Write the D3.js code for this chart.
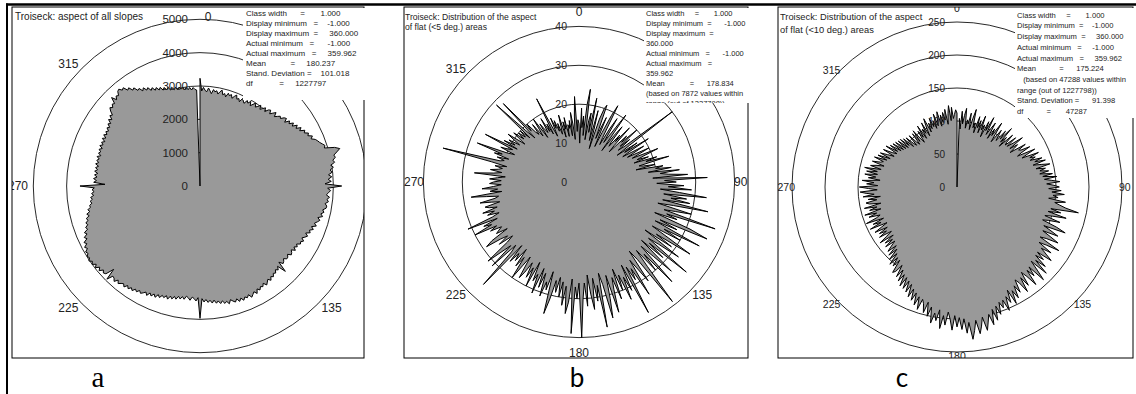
<!DOCTYPE html>
<html><head><meta charset="utf-8">
<script src="https://cdn.jsdelivr.net/npm/d3@7"></script>
<style>
body{margin:0;background:#fff;}
svg{display:block;font-family:"Liberation Sans",Arial,sans-serif;}
text{fill:#222;}
.pre{white-space:pre;}
</style></head><body>
<svg id="chart" width="1136" height="394"></svg>
<script>
// ---------- DATA ----------
const degrees = d3.range(360);

// a: aspect of all slopes (counts per 1-degree class)
const countsAll = [
3230,2850,2960,2880,2830,2950,2870,2790,2920,2860,
2900,2810,2890,2950,2820,2870,2780,2910,2850,2900,
2800,2880,2940,2830,2870,2790,2920,2860,2810,2930,
2870,2960,2840,2920,3000,2890,2950,3030,2920,2990,
3060,2960,3070,3110,3010,3090,3170,3050,3120,3190,
3150,3250,3290,3180,3320,3260,3380,3300,3440,3360,
3500,3420,3560,3510,3620,3570,3690,3620,3730,3780,
3820,3880,3940,3900,4200,4340,4230,4120,4150,4060,
4100,3970,4040,3930,3990,3870,3960,3850,3940,3750,
4250,3830,3920,3860,3800,3900,3830,3880,3790,3850,
3840,3750,3800,3720,3790,3660,3740,3680,3610,3690,
3560,3640,3540,3590,3470,3560,3500,3430,3520,3450,
3480,3380,3440,3360,3450,3340,3400,3430,3330,3390,
3400,3320,3380,3410,3290,3620,3350,3440,3380,3460,
3420,3500,3450,3540,3460,3520,3580,3480,3560,3520,
3600,3530,3650,3560,3620,3680,3570,3640,3590,3670,
3580,3660,3560,3640,3590,3530,3640,3550,3600,3510,
3580,3490,3550,3450,3530,3440,3500,3410,3480,3380,
3970,3350,3450,3380,3340,3440,3370,3330,3430,3360,
3440,3370,3470,3400,3490,3420,3530,3440,3520,3470,
3560,3490,3600,3520,3610,3540,3650,3570,3630,3680,
3620,3700,3650,3740,3680,3760,3690,3790,3720,3760,
3820,3740,3850,3780,3760,3950,3600,3860,3900,3840,
3950,3870,3980,3900,4000,3940,4020,3950,3990,3920,
3960,3860,3920,3810,3870,3740,3800,3680,3740,3610,
3650,3560,3600,3510,3550,3440,3500,3390,3440,3350,
3360,3280,3330,3250,3300,3200,3260,3180,3240,3170,
3600,2850,3190,3110,3200,3100,3180,3090,3190,3110,
3180,3100,3200,3120,3190,3130,3210,3110,3200,3150,
3220,3140,3240,3160,3230,3150,3260,3170,3270,3190,
3260,3200,3290,3230,3330,3270,3390,3310,3430,3380,
3500,3580,3520,3600,3560,3750,3600,3690,3650,3760,
3790,3700,3740,3600,3640,3510,3550,3420,3450,3330,
3400,3290,3340,3220,3280,3170,3230,3130,3190,3080,
3140,3050,3110,3010,3080,2990,3050,2970,3030,2960,
3000,2930,2990,2910,2970,2890,2960,2900,2880,0
];

// b: aspect of flat (<5 deg.) areas
const countsFlat5 = [
15,10,19,14,17,12,20,24,11,16,
18,13,22,15,11,19,14,9,17,20,
21,12,15,18,10,14,19,22,13,11,
16,19,12,14,17,21,10,15,18,13,
12,16,14,19,13,11,17,15,20,14,
17,13,15,30,16,12,18,14,21,15,
13,19,16,14,20,17,15,22,18,16,
19,15,21,18,24,16,17,20,15,22,
20,24,18,26,21,23,28,19,33,22,
25,20,27,23,29,21,26,33,22,28,
24,29,22,34,25,21,30,26,23,37,
24,27,21,31,36,23,28,22,35,25,
30,22,27,34,24,29,21,32,26,23,
36,24,29,22,33,27,23,35,25,30,
23,28,39,25,22,31,27,24,34,26,
29,25,38,24,31,27,33,26,30,24,
32,26,29,35,25,31,36,27,24,38,
27,31,25,33,29,24,32,26,30,40,
26,30,27,39,25,31,34,27,32,26,
30,25,29,26,31,35,24,29,27,31,
25,29,24,31,26,28,23,30,25,28,
24,27,29,23,26,30,24,27,22,26,
24,27,22,36,25,23,31,24,27,31,
24,22,26,23,25,29,27,22,25,24,
23,26,24,30,25,27,23,31,24,22,
25,23,26,22,24,25,21,23,26,22,
21,24,28,20,23,21,25,22,20,23,
22,20,23,21,19,27,22,20,23,21,
20,22,19,23,36,21,20,22,19,23,
21,28,20,18,22,20,19,27,18,22,
19,21,18,20,22,17,19,21,18,20,
18,20,17,29,19,16,28,18,20,17,
16,19,15,17,20,14,18,16,15,19,
15,17,14,24,16,13,18,15,17,14,
16,13,15,18,12,16,14,17,12,15,
14,16,12,18,15,11,17,22,13,16
];

// c: aspect of flat (<10 deg.) areas
const countsFlat10 = [
112,0,104,88,115,96,109,120,90,103,
97,114,89,106,121,93,101,86,112,95,
107,88,116,94,103,84,110,96,119,91,
102,113,87,105,94,118,98,86,109,100,
92,112,98,121,95,106,89,115,101,97,
116,98,108,124,99,112,105,96,122,109,
112,126,110,103,131,117,108,134,119,127,
118,136,124,140,120,132,145,123,137,128,
141,127,146,131,152,133,144,156,136,147,
155,139,158,144,163,146,154,140,166,150,
158,168,188,146,162,143,172,151,140,165,
148,139,163,178,144,157,170,146,160,175,
156,147,182,162,150,174,158,169,181,157,
171,158,180,163,188,159,175,192,163,178,
165,190,172,162,184,168,191,173,166,186,
173,192,178,198,174,193,182,203,185,196,
186,204,190,211,193,216,199,210,222,201,
214,225,204,219,232,206,222,200,216,198,
212,195,217,200,190,210,196,216,188,205,
194,210,186,201,180,197,184,178,195,176,
190,172,185,168,182,163,177,160,174,157,
173,155,168,150,164,145,158,162,141,154,
140,155,136,150,131,146,128,143,134,125,
141,126,138,121,144,130,120,140,126,137,
122,142,130,119,146,127,139,121,148,131,
124,141,128,146,120,137,125,144,118,135,
140,123,136,117,143,126,138,147,121,134,
148,120,137,126,144,117,135,124,141,122,
139,123,143,118,135,127,115,134,122,118,
133,114,129,110,127,116,106,125,111,104,
124,105,119,101,117,99,115,97,113,95,
112,96,109,90,107,94,88,106,92,86,
105,89,108,93,84,103,91,110,87,102,
94,111,88,104,115,92,106,96,112,98,
107,94,116,97,109,118,95,112,100,115,
103,119,96,112,124,101,121,104,110,117
];

const ringsA = [1000,2000,3000,4000,5000];
const ringsB = [10,20,30,40];
const ringsC = [50,100,150,200,250];
const ringLabelsA = [0,1000,2000,3000,4000,5000];
const ringLabelsB = [0,10,20,30,40];
const ringLabelsC = [0,50,100,150,200,250];
const dirTicksA = [0,90,135,225,270,315];
const dirTicksBC = [0,90,135,180,225,270,315];

const titleA = ["Troiseck: aspect of all slopes"];
const titleB = ["Troiseck: Distribution of the aspect","of flat (<5 deg.) areas"];
const titleC = ["Troiseck: Distribution of the aspect","of flat (<10 deg.) areas"];

const statsA = [
"Class width      =       1.000",
"Display minimum   =    -1.000",
"Display maximum  =     360.000",
"Actual minimum   =      -1.000",
"Actual maximum   =     359.962",
"Mean           =     180.237",
"Stand. Deviation =    101.018",
"df            =     1227797"
];
const statsB = [
"Class width     =       1.000",
"Display minimum  =      -1.000",
"Display maximum  =",
"360.000",
"Actual minimum   =      -1.000",
"Actual maximum   =",
"359.962",
"Mean            =      178.834",
"(based on 7872 values within",
"range (out of 1227798))"
];
const statsC = [
"Class width     =       1.000",
"Display minimum  =    -1.000",
"Display maximum  =     360.000",
"Actual minimum   =     -1.000",
"Actual maximum   =     359.962",
"Mean           =      175.224",
"   (based on 47288 values within",
"range (out of 1227798))",
"Stand. Deviation =      91.398",
"df           =       47287"
];
const panelLetters = ["a","b","c"];

// ---------- LAYOUT ----------
const panels = [
 {id:"a", values:countsAll, max:5000, rings:ringsA, ringLabels:ringLabelsA, dirs:dirTicksA,
  frame:[12,7,364,358], cx:200, cy:186, radius:166.7, rLab:172, rSide:172, rTop:169, rBot:172, topDx:8,
  ringFont:11.5, dirFont:12, title:titleA, titleFont:10, titleX:15, titleY:20, titleStep:11,
  stats:statsA, statFont:8, statX:246, statY:16.2, statStep:10, box:[243,8,366,100],
  letterX:98, letterFont:"'Liberation Serif', serif", letterSize:29},
 {id:"b", values:countsFlat5, max:40, rings:ringsB, ringLabels:ringLabelsB, dirs:dirTicksBC,
  frame:[404,7,748,358], cx:579, cy:182, radius:155.6, rLab:160, rSide:155, rTop:170, rBot:171, topDx:0,
  ringFont:10.5, dirFont:12, title:titleB, titleFont:8.6, titleX:405, titleY:19.6, titleStep:10,
  stats:statsB, statFont:7.5, statX:646, statY:16, statStep:10, box:[644,8,750,103],
  letterX:577, letterFont:"Lato, 'Open Sans', sans-serif", letterSize:26},
 {id:"c", values:countsFlat10, max:250, rings:ringsC, ringLabels:ringLabelsC, dirs:dirTicksBC,
  frame:[778,7,1133,358], cx:957, cy:187, radius:165, rLab:165, rSide:162, rTop:179, rBot:169, topDx:0,
  ringFont:10, dirFont:10.5, title:titleC, titleFont:9.3, titleX:780, titleY:20, titleStep:12.6,
  stats:statsC, statFont:7.6, statX:1017, statY:17.7, statStep:10.7, box:[1015,8,1136,118],
  letterX:902, letterFont:"Lato, 'Open Sans', sans-serif", letterSize:26}
];

const svg = d3.select("#chart");
const defs = svg.append("defs");
const ang = d3.scaleLinear().domain([0,360]).range([0,2*Math.PI]);

panels.forEach(p=>{
  const [fx0,fy0,fx1,fy1] = p.frame;
  defs.append("clipPath").attr("id","clip-"+p.id).append("rect")
    .attr("x",fx0).attr("y",fy0).attr("width",fx1-fx0).attr("height",fy1-fy0);
  defs.append("clipPath").attr("id","box-"+p.id).append("rect")
    .attr("x",p.box[0]).attr("y",p.box[1]).attr("width",p.box[2]-p.box[0]).attr("height",p.box[3]-p.box[1]);

  const r = d3.scaleLinear().domain([0,p.max]).range([0,p.radius]);
  const g = svg.append("g");
  const inner = g.append("g").attr("clip-path",`url(#clip-${p.id})`);
  const c = inner.append("g").attr("transform",`translate(${p.cx},${p.cy})`);

  c.selectAll("circle.ring").data(p.rings).join("circle").attr("class","ring")
    .attr("r",d=>r(d)).attr("fill","none").attr("stroke","#111").attr("stroke-width",0.9);

  const radial = d3.lineRadial()
    .angle((d,i)=>ang(degrees[i]))
    .radius(d=>r(d))
    .curve(d3.curveLinearClosed);
  c.append("path").datum(p.values).attr("d",radial)
    .attr("fill","#999").attr("stroke","#000").attr("stroke-width",1).attr("stroke-linejoin","miter");

  c.selectAll("text.rl").data(p.ringLabels).join("text").attr("class","rl")
    .attr("x",-12).attr("y",d=>-r(d)).attr("text-anchor","end")
    .attr("dominant-baseline","central").attr("font-size",p.ringFont).text(d=>d);

  c.selectAll("text.dl").data(p.dirs).join("text").attr("class","dl")
    .attr("x",d=>{const s=Math.sin(ang(d));
       if(d===0) return p.topDx;
       if(Math.abs(s)<0.3) return 0;
       return (Math.abs(s)>0.99?p.rSide:p.rLab)*s;})
    .attr("y",d=>{const co=Math.cos(ang(d)); if(d===0) return -p.rTop; if(d===180) return p.rBot; return -p.rLab*co;})
    .attr("text-anchor",d=>{const s=Math.sin(ang(d)); return s>0.3?"start":(s<-0.3?"end":"middle");})
    .attr("dominant-baseline","central").attr("font-size",p.dirFont).text(d=>d);

  g.append("rect").attr("x",fx0).attr("y",fy0).attr("width",fx1-fx0).attr("height",fy1-fy0)
    .attr("fill","none").attr("stroke","#000").attr("stroke-width",1);

  g.append("rect").attr("x",p.box[0]).attr("y",p.box[1]).attr("width",p.box[2]-p.box[0]).attr("height",p.box[3]-p.box[1])
    .attr("fill","#fff");
  g.append("g").attr("clip-path",`url(#box-${p.id})`)
    .selectAll("text").data(p.stats).join("text").attr("class","pre")
    .attr("x",p.statX).attr("y",(d,i)=>p.statY+i*p.statStep)
    .attr("font-size",p.statFont).text(d=>d);

  g.selectAll("text.title").data(p.title).join("text").attr("class","title")
    .attr("x",p.titleX).attr("y",(d,i)=>p.titleY+i*p.titleStep)
    .attr("font-size",p.titleFont).text(d=>d);
});

svg.selectAll("text.letter").data(panelLetters).join("text").attr("class","letter")
  .attr("x",(d,i)=>panels[i].letterX).attr("y",387).attr("text-anchor","middle")
  .attr("font-family",(d,i)=>panels[i].letterFont).attr("font-size",(d,i)=>panels[i].letterSize)
  .style("fill","#000").text(d=>d);

svg.append("line").attr("x1",6).attr("x2",1136).attr("y1",4.5).attr("y2",4.5).attr("stroke","#000").attr("stroke-width",2.3);
svg.append("line").attr("x1",7).attr("x2",7).attr("y1",3.5).attr("y2",394).attr("stroke","#000").attr("stroke-width",2);
</script>
</body></html>
